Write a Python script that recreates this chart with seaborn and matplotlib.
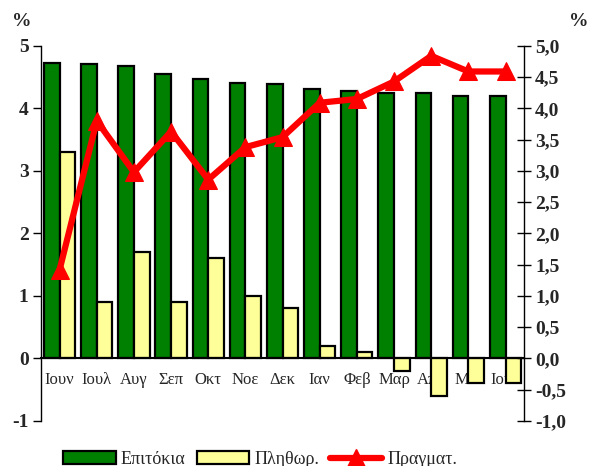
import pandas as pd
import matplotlib
matplotlib.use("Agg")
import matplotlib.pyplot as plt
import seaborn as sns
from matplotlib.lines import Line2D
from matplotlib.patches import Patch

# ==========================================
# Data
# ==========================================

months = ["Ιουν", "Ιουλ", "Αυγ", "Σεπ", "Οκτ", "Νοε", "Δεκ",
          "Ιαν", "Φεβ", "Μαρ", "Απρ", "Μαϊ", "Ιουν"]
rates = [4.73, 4.71, 4.68, 4.55, 4.47, 4.41, 4.39,
         4.31, 4.28, 4.25, 4.25, 4.20, 4.20]
inflation = [3.3, 0.9, 1.7, 0.9, 1.6, 1.0, 0.8,
             0.2, 0.1, -0.2, -0.6, -0.4, -0.4]
real = [1.42, 3.8, 2.98, 3.63, 2.86, 3.38, 3.54,
        4.09, 4.15, 4.43, 4.84, 4.59, 4.59]

left_ticks = [-1, 0, 1, 2, 3, 4, 5]
right_ticks = [-1.0, -0.5, 0.0, 0.5, 1.0, 1.5, 2.0, 2.5, 3.0, 3.5, 4.0, 4.5, 5.0]

pos = list(range(len(months)))

bars = pd.DataFrame({
    "pos": pos * 2,
    "value": rates + inflation,
    "series": ["Επιτόκια"] * len(pos) + ["Πληθωρ."] * len(pos),
})
line = pd.DataFrame({"pos": pos, "value": real})

# ==========================================
# Plot
# ==========================================

sns.set_style("white")
plt.rcParams["font.family"] = ["Liberation Serif", "DejaVu Serif"]

green = "#008000"
yellow = "#FFFF99"
red = "#FF0000"

fig = plt.figure(figsize=(5.92, 4.66), dpi=100)
ax = fig.add_axes([0.0693, 0.0966, 0.816, 0.805])

sns.barplot(
    data=bars, x="pos", y="value", hue="series",
    palette=[green, yellow], saturation=1, width=0.84, dodge=True,
    edgecolor="black", linewidth=1.6, legend=False, ax=ax,
)

ax.set_xlim(-0.5, len(months) - 0.5)
ax.set_ylim(-1, 5)
ax.set_xlabel("")
ax.set_ylabel("")

# x axis on the zero line
ax.spines["bottom"].set_position(("data", 0))
ax.spines["bottom"].set_linewidth(1.5)
ax.spines["top"].set_visible(False)
ax.spines["right"].set_visible(False)
ax.spines["left"].set_linewidth(1.0)
ax.spines["left"].set_color("black")
ax.spines["bottom"].set_color("black")

ax.set_xticks(pos)
ax.set_xticklabels(months, fontsize=12)
ax.set_xticks([p + 0.5 for p in pos[:-1]], minor=True)
ax.tick_params(axis="x", which="major", length=0, pad=10)
ax.tick_params(axis="x", which="minor", direction="inout", length=8,
               width=1, color="black")

ax.set_yticks(left_ticks)
ax.set_yticklabels([str(t) for t in left_ticks], fontsize=14, fontweight="bold")
ax.tick_params(axis="y", direction="out", length=6, width=1,
               color="black", left=True, pad=3)

# right axis for the real rate
ax2 = ax.twinx()
sns.lineplot(
    data=line, x="pos", y="value", color=red, linewidth=4.5,
    marker="^", markersize=13, markeredgecolor=red, ax=ax2,
)
ax2.set_ylim(-1, 5)
ax2.set_xlim(-0.5, len(months) - 0.5)
ax2.set_ylabel("")
ax2.set_xlabel("")
for s in ["top", "left", "bottom"]:
    ax2.spines[s].set_visible(False)
ax2.spines["right"].set_color("black")
ax2.spines["right"].set_linewidth(1.0)
ax2.set_yticks(right_ticks)
ax2.set_yticklabels([f"{t:.1f}".replace(".", ",") for t in right_ticks],
                    fontsize=14, fontweight="bold")
ax2.tick_params(axis="y", direction="inout", length=10, width=1,
                color="black", right=True, pad=3)

fig.text(0.037, 0.953, "%", fontsize=14, fontweight="bold", ha="center", va="center")
fig.text(0.977, 0.953, "%", fontsize=14, fontweight="bold", ha="center", va="center")

handles = [
    Patch(facecolor=green, edgecolor="black", linewidth=1.6),
    Patch(facecolor=yellow, edgecolor="black", linewidth=1.6),
    Line2D([0], [0], color=red, linewidth=4.5, marker="^", markersize=13),
]
fig.legend(
    handles, ["Επιτόκια", "Πληθωρ.", "Πραγματ."],
    loc="center", bbox_to_anchor=(0.44, 0.014), ncol=3, frameon=False,
    fontsize=13, handlelength=2.9, handleheight=0.7, handletextpad=0.3,
    columnspacing=0.6,
)

plt.savefig("out.png", dpi=100)
